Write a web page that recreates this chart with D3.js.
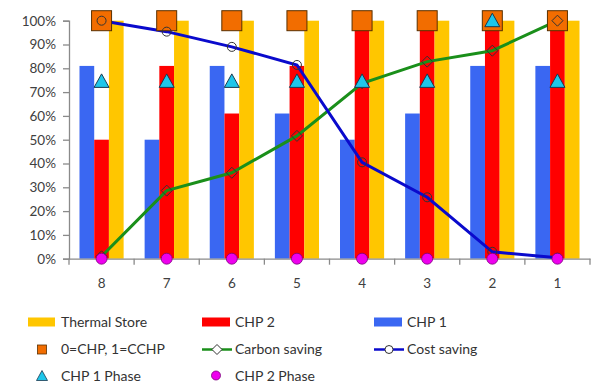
<!DOCTYPE html>
<html><head><meta charset="utf-8">
<script src="https://cdn.jsdelivr.net/npm/d3@7"></script>
<style>body{margin:0;background:#fff}svg{display:block}text{font-family:Lato,"Open Sans",sans-serif}</style>
</head><body><svg id="c" width="592" height="383"></svg>
<script>
const categories = ["8","7","6","5","4","3","2","1"];
const thermalStore = [1,1,1,1,1,1,1,1];
const chp2 = [0.50,0.81,0.61,0.81,1,1,1,1];
const chp1 = [0.81,0.50,0.81,0.61,0.50,0.61,0.81,0.81];
const cchp = [1,1,1,1,1,1,1,1];
const carbonSaving = [0.01,0.286,0.361,0.516,0.737,0.828,0.874,1.0];
const costSaving = [1.0,0.954,0.89,0.814,0.405,0.258,0.029,0.004];
const chp1Phase = [0.745,0.745,0.745,0.745,0.745,0.745,1.0,0.745];
const chp2Phase = [0,0,0,0,0,0,0,0];
const yTicks = [0,0.1,0.2,0.3,0.4,0.5,0.6,0.7,0.8,0.9,1.0];
const barSeries = ["CHP 1","CHP 2","Thermal Store"];

const svg = d3.select("#c");
const x = d3.scaleBand().domain(categories).range([69,590]).padding(0);
const xs = d3.scaleBand().domain(barSeries).range([10.5, x.bandwidth()-10.5]).padding(0);
const y = d3.scaleLinear().domain([0,1]).range([258.7,20.7]);
const colors = {"CHP 1":"#3a67f2","CHP 2":"#ff0000","Thermal Store":"#ffc600"};
const barData = {"CHP 1":chp1,"CHP 2":chp2,"Thermal Store":thermalStore};
const axisCol = "#8a8a8a", textCol = "#404040";

// bars
barSeries.forEach(s=>{
  svg.append("g").selectAll("rect").data(categories).join("rect")
    .attr("x",(c)=>x(c)+xs(s)).attr("width",xs.bandwidth())
    .attr("y",(c,i)=>y(barData[s][i])).attr("height",(c,i)=>y(0)-y(barData[s][i]))
    .attr("fill",colors[s]);
});

// axes
const yAxis = svg.append("g").attr("transform","translate(69,0)")
  .call(d3.axisLeft(y).tickValues(yTicks).tickFormat(d3.format(".0%")).tickSize(6).tickPadding(7));
yAxis.select(".domain").attr("stroke",axisCol).attr("stroke-width",1.3);
yAxis.selectAll(".tick line").attr("stroke",axisCol).attr("stroke-width",1.3);
yAxis.selectAll("text").attr("fill",textCol).style("font-size","13.5px").style("font-family","Lato,sans-serif");

const xAxis = svg.append("g").attr("transform",`translate(0,${y(0)})`)
  .call(d3.axisBottom(x).tickSize(0).tickPadding(20));
xAxis.select(".domain").attr("stroke",axisCol).attr("stroke-width",1.3);
xAxis.selectAll("text").attr("fill",textCol).style("font-size","13.5px").style("font-family","Lato,sans-serif");
const bounds = categories.map(c=>x(c)).concat([x.range()[1]]);
svg.append("g").selectAll("line").data(bounds).join("line")
  .attr("x1",d=>d).attr("x2",d=>d).attr("y1",y(0)).attr("y2",y(0)+6)
  .attr("stroke",axisCol).attr("stroke-width",1.3);

const cx = c=>x(c)+x.bandwidth()/2;

// lines
const line = d3.line().x((d,i)=>cx(categories[i])).y(d=>y(d));
svg.append("path").datum(carbonSaving).attr("d",line).attr("fill","none").attr("stroke","#1a8f1a").attr("stroke-width",3);
svg.append("path").datum(costSaving).attr("d",line).attr("fill","none").attr("stroke","#0a0acc").attr("stroke-width",3);

// squares
svg.append("g").selectAll("rect").data(cchp).join("rect")
  .attr("x",(d,i)=>cx(categories[i])-10).attr("y",d=>y(d)-10).attr("width",20).attr("height",20)
  .attr("fill","#f26d00").attr("stroke","#5a3000").attr("stroke-width",1);

// line markers
svg.append("g").selectAll("path").data(carbonSaving).join("path")
  .attr("transform",(d,i)=>`translate(${cx(categories[i])},${y(d)})`)
  .attr("d","M0,-5.5L5.5,0L0,5.5L-5.5,0Z").attr("fill","none").attr("stroke","#333").attr("stroke-width",1);
svg.append("g").selectAll("circle").data(costSaving).join("circle")
  .attr("cx",(d,i)=>cx(categories[i])).attr("cy",d=>y(d)).attr("r",4.5)
  .attr("fill","none").attr("stroke","#333").attr("stroke-width",1);

// triangles
svg.append("g").selectAll("path").data(chp1Phase).join("path")
  .attr("transform",(d,i)=>`translate(${cx(categories[i])},${y(d)})`)
  .attr("d","M0,-7.5L7.5,6L-7.5,6Z").attr("fill","#1ec6ea").attr("stroke","#1a3a50").attr("stroke-width",1);

// magenta
svg.append("g").selectAll("circle").data(chp2Phase).join("circle")
  .attr("cx",(d,i)=>cx(categories[i])).attr("cy",d=>y(d)).attr("r",5.5)
  .attr("fill","#ee00ee").attr("stroke","#7a007a").attr("stroke-width",0.8);

// legend
const lg = svg.append("g").style("font-size","14px").attr("fill","#333");
function ltext(xp,yp,t){lg.append("text").attr("x",xp).attr("y",yp).attr("dy","0.35em").attr("fill","#333").text(t);}
lg.append("rect").attr("x",28).attr("y",317.5).attr("width",27).attr("height",9).attr("fill",colors["Thermal Store"]);
ltext(61,322.5,"Thermal Store");
lg.append("rect").attr("x",202).attr("y",317.5).attr("width",28).attr("height",9).attr("fill",colors["CHP 2"]);
ltext(235,322.5,"CHP 2");
lg.append("rect").attr("x",374).attr("y",317.5).attr("width",28).attr("height",9).attr("fill",colors["CHP 1"]);
ltext(407,322.5,"CHP 1");
lg.append("rect").attr("x",37.5).attr("y",345).attr("width",9).attr("height",9).attr("fill","#f26d00").attr("stroke","#5a3000").attr("stroke-width",0.8);
ltext(61,349.5,"0=CHP, 1=CCHP");
lg.append("line").attr("x1",202).attr("x2",232).attr("y1",349.5).attr("y2",349.5).attr("stroke","#1a8f1a").attr("stroke-width",2.5);
lg.append("path").attr("transform","translate(217,349.5)").attr("d","M0,-5L5,0L0,5L-5,0Z").attr("fill","#fff").attr("stroke","#333").attr("stroke-width",1);
ltext(235,349.5,"Carbon saving");
lg.append("line").attr("x1",374).attr("x2",404).attr("y1",349.5).attr("y2",349.5).attr("stroke","#0a0acc").attr("stroke-width",2.5);
lg.append("circle").attr("cx",389).attr("cy",349.5).attr("r",4).attr("fill","#fff").attr("stroke","#333").attr("stroke-width",1);
ltext(407,349.5,"Cost saving");
lg.append("path").attr("transform","translate(42,376)").attr("d","M0,-5.5L5.5,4.5L-5.5,4.5Z").attr("fill","#1ec6ea").attr("stroke","#1a3a50").attr("stroke-width",0.8);
ltext(61,376,"CHP 1 Phase");
lg.append("circle").attr("cx",216).attr("cy",375.5).attr("r",4.5).attr("fill","#ee00ee").attr("stroke","#7a007a").attr("stroke-width",0.8);
ltext(235,376,"CHP 2 Phase");
</script></body></html>
